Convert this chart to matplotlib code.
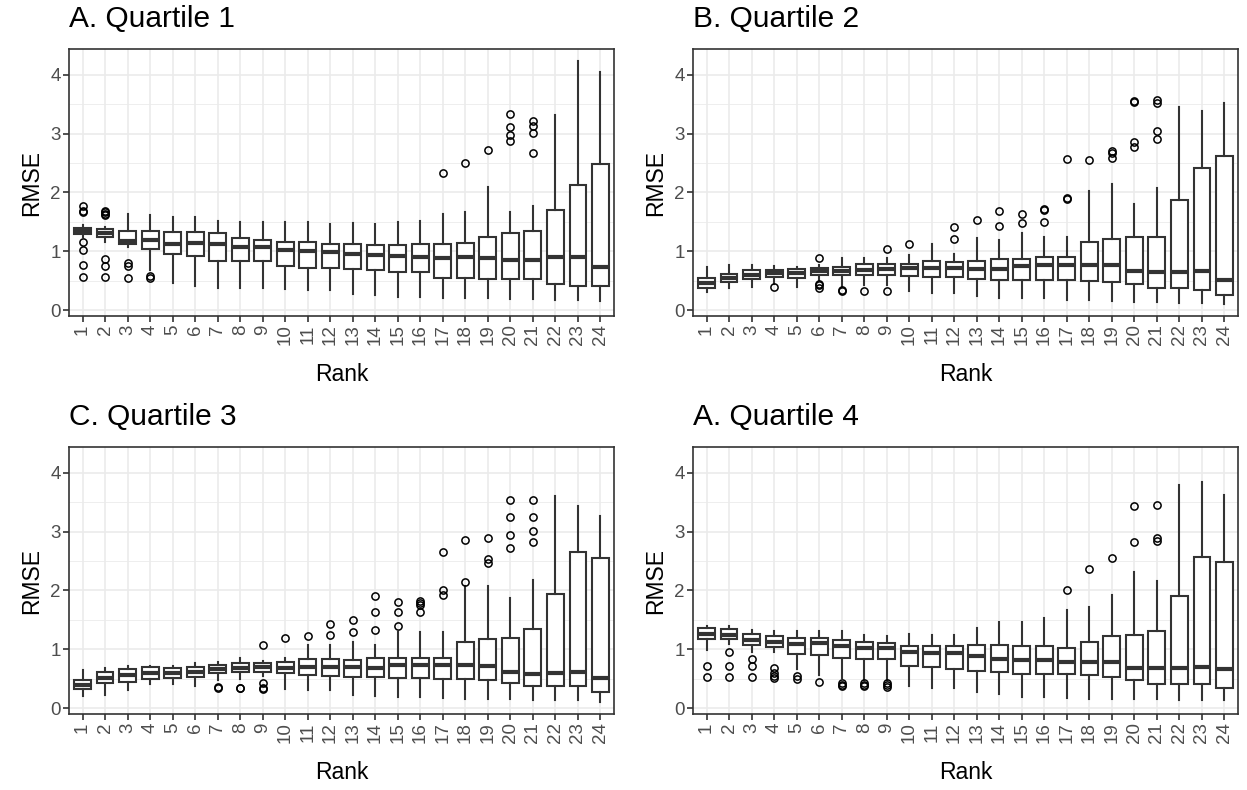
import matplotlib
matplotlib.use("Agg")
import matplotlib.pyplot as plt
from matplotlib.ticker import MultipleLocator

plt.rcParams["font.family"] = ["Liberation Sans", "DejaVu Sans"]

ranks = list(range(1, 25))

# Quartile 1
A_lo = [1.25, 1.15, 1.08, 0.68, 0.46, 0.41, 0.37, 0.37, 0.37, 0.36, 0.35, 0.34,
        0.28, 0.25, 0.23, 0.23, 0.20, 0.20, 0.20, 0.19, 0.19, 0.18, 0.18, 0.16]
A_q1 = [1.29, 1.25, 1.12, 1.04, 0.96, 0.92, 0.84, 0.84, 0.83, 0.75, 0.72, 0.72,
        0.70, 0.68, 0.65, 0.65, 0.55, 0.55, 0.53, 0.53, 0.53, 0.44, 0.41, 0.41]
A_med = [1.35, 1.31, 1.18, 1.19, 1.13, 1.14, 1.12, 1.08, 1.07, 1.03, 1.01, 0.99,
         0.96, 0.93, 0.92, 0.91, 0.89, 0.90, 0.89, 0.85, 0.85, 0.90, 0.90, 0.74]
A_q3 = [1.40, 1.38, 1.35, 1.34, 1.33, 1.33, 1.31, 1.23, 1.19, 1.16, 1.15, 1.13,
        1.12, 1.11, 1.10, 1.13, 1.12, 1.14, 1.24, 1.31, 1.34, 1.71, 2.12, 2.49]
A_hi = [1.45, 1.42, 1.64, 1.61, 1.59, 1.58, 1.52, 1.50, 1.50, 1.49, 1.50, 1.47,
        1.48, 1.47, 1.50, 1.51, 1.64, 1.66, 2.10, 1.67, 1.77, 3.31, 4.24, 4.05]
A_out = [[1.77, 1.68, 1.66, 1.15, 1.02, 0.76, 0.57],
         [1.69, 1.67, 1.64, 1.61, 0.87, 0.75, 0.57],
         [0.80, 0.75, 0.55], [0.58, 0.54],
         [], [], [], [], [], [], [], [], [], [], [], [],
         [2.33], [2.50], [2.73], [3.33, 3.11, 2.97, 2.87],
         [3.21, 3.13, 3.01, 2.67], [], [], []]

# Quartile 2
B_lo = [0.31, 0.37, 0.39, 0.45, 0.40, 0.51, 0.40, 0.42, 0.42, 0.33, 0.29, 0.29,
        0.24, 0.20, 0.20, 0.20, 0.17, 0.17, 0.16, 0.14, 0.14, 0.12, 0.12, 0.11]
B_q1 = [0.37, 0.48, 0.53, 0.56, 0.55, 0.59, 0.59, 0.59, 0.59, 0.58, 0.57, 0.57,
        0.53, 0.52, 0.52, 0.52, 0.51, 0.50, 0.47, 0.44, 0.37, 0.37, 0.35, 0.26]
B_med = [0.46, 0.55, 0.60, 0.63, 0.63, 0.67, 0.67, 0.69, 0.70, 0.71, 0.72, 0.72,
         0.70, 0.70, 0.75, 0.76, 0.76, 0.76, 0.76, 0.67, 0.65, 0.65, 0.66, 0.51]
B_q3 = [0.55, 0.62, 0.68, 0.69, 0.70, 0.72, 0.74, 0.78, 0.78, 0.79, 0.83, 0.82,
        0.84, 0.87, 0.87, 0.90, 0.90, 1.16, 1.21, 1.24, 1.24, 1.87, 2.42, 2.62]
B_hi = [0.74, 0.76, 0.76, 0.75, 0.74, 0.76, 0.88, 0.88, 0.88, 0.93, 1.13, 0.95,
        1.22, 1.20, 1.31, 1.24, 1.24, 2.03, 2.15, 1.80, 2.08, 3.46, 3.38, 3.53]
B_out = [[], [], [], [0.40], [],
         [0.88, 0.45, 0.42, 0.38], [0.34, 0.33], [0.33], [1.04, 0.33], [1.12],
         [], [1.41, 1.21], [1.54], [1.69, 1.43], [1.64, 1.48],
         [1.72, 1.70, 1.50], [2.57, 1.91, 1.89], [2.56], [2.71, 2.68, 2.58],
         [3.56, 3.54, 2.86, 2.77], [3.57, 3.52, 3.04, 2.91], [], [], []]

# Quartile 3
C_lo = [0.20, 0.23, 0.31, 0.41, 0.41, 0.38, 0.48, 0.49, 0.54, 0.32, 0.30, 0.30,
        0.23, 0.20, 0.19, 0.19, 0.17, 0.15, 0.15, 0.15, 0.14, 0.14, 0.14, 0.11]
C_q1 = [0.32, 0.42, 0.45, 0.50, 0.51, 0.53, 0.59, 0.61, 0.61, 0.59, 0.57, 0.55,
        0.53, 0.53, 0.51, 0.51, 0.49, 0.49, 0.47, 0.42, 0.38, 0.37, 0.37, 0.27]
C_med = [0.40, 0.52, 0.57, 0.60, 0.60, 0.62, 0.66, 0.68, 0.70, 0.69, 0.70, 0.70,
         0.70, 0.69, 0.73, 0.73, 0.73, 0.73, 0.71, 0.62, 0.58, 0.59, 0.62, 0.51]
C_q3 = [0.47, 0.61, 0.66, 0.70, 0.69, 0.70, 0.74, 0.76, 0.76, 0.79, 0.84, 0.83,
        0.82, 0.85, 0.85, 0.86, 0.86, 1.13, 1.18, 1.20, 1.34, 1.94, 2.66, 2.56]
C_hi = [0.64, 0.68, 0.72, 0.72, 0.71, 0.76, 0.79, 0.86, 0.80, 0.86, 1.08, 1.07,
        1.13, 1.08, 1.30, 1.30, 1.30, 2.07, 2.08, 1.87, 2.18, 3.61, 3.44, 3.26]
C_out = [[], [], [], [], [], [],
         [0.36, 0.34], [0.35, 0.34], [1.08, 0.42, 0.35, 0.32], [1.20],
         [1.23], [1.43, 1.24], [1.50, 1.30], [1.90, 1.63, 1.32],
         [1.81, 1.64, 1.39], [1.82, 1.78, 1.75, 1.64], [2.66, 2.01, 1.92],
         [2.86, 2.14], [2.90, 2.54, 2.46], [3.54, 3.25, 2.94, 2.72],
         [3.54, 3.25, 3.02, 2.82], [], [], []]

# Quartile 4
D_lo = [0.99, 1.09, 0.96, 0.95, 0.66, 0.57, 0.51, 0.48, 0.48, 0.37, 0.34, 0.34,
        0.27, 0.24, 0.19, 0.19, 0.17, 0.15, 0.15, 0.15, 0.15, 0.13, 0.13, 0.14]
D_q1 = [1.17, 1.17, 1.08, 1.04, 0.92, 0.90, 0.86, 0.83, 0.83, 0.72, 0.70, 0.66,
        0.63, 0.62, 0.58, 0.58, 0.58, 0.57, 0.53, 0.47, 0.41, 0.41, 0.41, 0.35]
D_med = [1.26, 1.25, 1.15, 1.12, 1.09, 1.10, 1.05, 1.03, 1.02, 0.95, 0.93, 0.93,
         0.88, 0.83, 0.82, 0.81, 0.79, 0.79, 0.78, 0.69, 0.68, 0.68, 0.70, 0.67]
D_q3 = [1.36, 1.35, 1.26, 1.22, 1.19, 1.19, 1.16, 1.13, 1.10, 1.05, 1.05, 1.05,
        1.07, 1.07, 1.06, 1.06, 1.03, 1.12, 1.22, 1.24, 1.31, 1.91, 2.57, 2.48]
D_hi = [1.40, 1.39, 1.32, 1.31, 1.31, 1.31, 1.31, 1.24, 1.23, 1.26, 1.25, 1.25,
        1.36, 1.46, 1.47, 1.54, 1.66, 1.72, 1.93, 2.31, 2.17, 3.80, 3.84, 3.62]
D_out = [[0.71, 0.53], [0.96, 0.72, 0.53], [0.84, 0.72, 0.53],
         [0.69, 0.59, 0.55, 0.51], [0.54, 0.49], [0.44],
         [0.43, 0.40, 0.37], [0.43, 0.40, 0.37], [0.42, 0.39, 0.36],
         [], [], [], [], [], [], [],
         [2.01], [2.37], [2.56], [3.43, 2.83], [3.46, 2.89, 2.84], [], [], []]

panels = [
    ("A. Quartile 1", A_lo, A_q1, A_med, A_q3, A_hi, A_out),
    ("B. Quartile 2", B_lo, B_q1, B_med, B_q3, B_hi, B_out),
    ("C. Quartile 3", C_lo, C_q1, C_med, C_q3, C_hi, C_out),
    ("A. Quartile 4", D_lo, D_q1, D_med, D_q3, D_hi, D_out),
]

# axes boxes in figure pixels: left, top, right, bottom
W, H = 1247, 790
boxes = [(69, 49, 614, 316), (693, 49, 1238, 316),
         (69, 447, 614, 714), (693, 447, 1238, 714)]

dark = "#333333"
grid_col = "#ebebeb"

fig = plt.figure(figsize=(W / 100, H / 100), dpi=100)

for (title, lo, q1, med, q3, hi, out), (l, t, r, b) in zip(panels, boxes):
    ax = fig.add_axes([l / W, 1 - b / H, (r - l) / W, (b - t) / H])
    stats = []
    for i in range(len(ranks)):
        stats.append(dict(whislo=lo[i], q1=q1[i], med=med[i], q3=q3[i],
                          whishi=hi[i], fliers=out[i]))
    ax.bxp(stats, positions=ranks, widths=0.75, patch_artist=True,
           showcaps=False,
           boxprops=dict(facecolor="white", edgecolor=dark, linewidth=1.5),
           whiskerprops=dict(color=dark, linewidth=1.5),
           medianprops=dict(color=dark, linewidth=3.0, solid_capstyle="butt"),
           flierprops=dict(marker="o", markerfacecolor="none",
                           markeredgecolor="black", markersize=5.2,
                           markeredgewidth=1.1, linestyle="none"))

    ax.set_xlim(0.4, 24.6)
    ax.set_ylim(-0.10, 4.44)
    ax.set_xticks(ranks)
    ax.set_xticklabels([str(v) for v in ranks], rotation=90)
    ax.yaxis.set_major_locator(MultipleLocator(1))
    ax.yaxis.set_minor_locator(MultipleLocator(0.5))
    ax.grid(True, which="major", color=grid_col, linewidth=1.2)
    ax.grid(True, which="minor", axis="y", color=grid_col, linewidth=0.6)
    ax.set_axisbelow(True)
    ax.tick_params(axis="both", which="major", direction="out", length=4,
                   width=1.2, color=dark, labelcolor="#4d4d4d",
                   labelsize=13.5, pad=2)
    ax.tick_params(axis="y", which="minor", length=0)
    for s in ax.spines.values():
        s.set_color(dark)
        s.set_linewidth(1.2)

    ax.set_xlabel("Rank", fontsize=16.5, labelpad=13)
    ax.set_ylabel("RMSE", fontsize=16.5, labelpad=5)
    ax.set_title(title, loc="left", fontsize=21.5, pad=16, x=0.0)

fig.savefig("out.png", dpi=100)
